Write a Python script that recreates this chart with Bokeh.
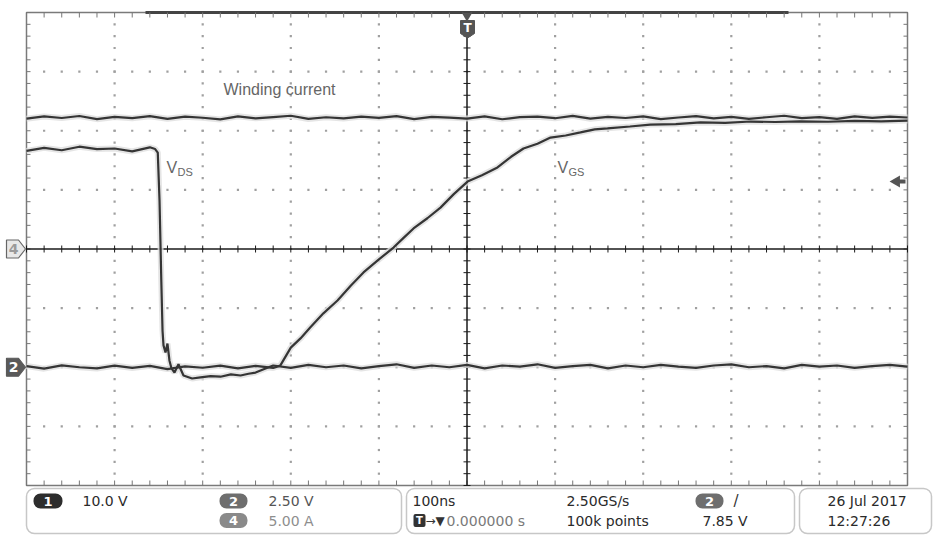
import numpy as np
from bokeh.plotting import figure
from bokeh.models import Range1d, BoxAnnotation
from bokeh.core.properties import value
from bokeh.embed import file_html
from bokeh.resources import INLINE

# ---------------- scope settings ----------------
time_per_div_ns = 100
ch1_v_per_div = 10.0   # V_DS
ch2_v_per_div = 2.5    # V_GS
ch4_a_per_div = 5.0    # winding current
ch1_offset_div = -2.0
ch2_offset_div = -2.0
ch4_offset_div = 0.0
trigger_level_v = 7.85

# ---------------- waveform data ----------------
t_current = list(range(-500, 501, 20))  # ns
i_winding = [11.02, 11.21, 11.08, 11.25, 10.98, 11.17, 11.06, 11.23, 11.01, 11.19,
             11.10, 10.96, 11.22, 11.05, 11.16, 11.27, 11.00, 11.14, 11.04, 11.20,
             11.09, 11.24, 10.99, 11.18, 11.11, 11.03, 11.22, 10.97, 11.15, 11.19,
             11.06, 11.26, 11.02, 11.17, 11.08, 11.21, 10.98, 11.12, 11.24, 11.05,
             11.18, 11.01, 11.14, 11.27, 11.07, 11.16, 11.00, 11.22, 11.09, 11.19, 11.12]

t_vds = [-500, -480, -460, -440, -420, -400, -380, -360, -354,
         -351, -349, -347, -345.6, -344.5, -342.2, -340, -337.7, -335.4, -332,
         -327.5, -321.8, -312, -302.5, -291, -279.8, -268, -257, -248, -240, -228.7,
         -220, -200, -180, -160, -140, -120, -100, -80, -60, -40, -20, 0,
         20, 40, 60, 80, 100, 120, 140, 160, 180, 200, 220, 240, 260, 280,
         300, 320, 340, 360, 380, 400, 420, 440, 460, 480, 500]
v_ds = [36.6, 37.1, 36.7, 37.3, 36.9, 37.0, 36.5, 37.2, 36.9,
        36.3, 28.2, 14.7, 6.2, 3.7, 2.5, 4.0, 1.1, -0.2, -0.9,
        0.5, -1.4, -1.9, -1.7, -1.5, -1.6, -1.2, -1.4, -1.1, -0.9, -0.2,
        0.3, -0.1, 0.4, 0.0, 0.3, -0.2, 0.2, 0.5, -0.1, 0.3, 0.0, 0.4,
        -0.2, 0.3, 0.1, 0.5, -0.1, 0.2, 0.4, -0.2, 0.3, 0.0, 0.4, 0.1, -0.1, 0.3,
        0.5, 0.0, 0.2, -0.2, 0.4, 0.1, 0.3, -0.1, 0.2, 0.4, 0.1]

t_vgs = [-500, -480, -460, -440, -420, -400, -380, -360, -340, -320, -300, -280,
         -260, -240, -220, -212,
         -200, -189, -178, -163, -147, -132, -117.5, -100, -83.4, -72, -60.7, -45, -30.1,
         -15, 0.6, 17, 34.6, 50, 64.1, 80, 94.8, 112, 128.8, 145, 159.5,
         185, 208, 237, 265, 293, 322, 350, 378, 410, 440, 470, 500]
v_gs = [0.05, -0.06, 0.08, 0.00, -0.05, 0.07, -0.03, 0.06, -0.08, 0.04, -0.02, 0.07,
        -0.05, 0.06, -0.03, 0.07,
        0.83, 1.22, 1.68, 2.28, 2.82, 3.45, 4.01, 4.56, 5.06, 5.47, 5.87, 6.30, 6.75,
        7.32, 7.85, 8.12, 8.45, 8.90, 9.25, 9.45, 9.71, 9.80, 9.93, 10.06, 10.10,
        10.18, 10.26, 10.28, 10.35, 10.33, 10.39, 10.37, 10.40, 10.38, 10.42, 10.40, 10.43]

# ---------------- page geometry ----------------
W, H = 935, 547
GX0, GX1 = 26.0, 907.0          # graticule left/right in px
GY_CENTER, PX_PER_DIV_Y = 248.5, 59.125
PX_PER_NS = (GX1 - GX0) / (10 * time_per_div_ns)
X_CENTER = (GX0 + GX1) / 2


def px_x(px):
    return (px - X_CENTER) / PX_PER_NS


def px_y(py):
    return (GY_CENTER - py) / PX_PER_DIV_Y


p = figure(width=W, height=H, output_backend="svg", toolbar_location=None,
           x_range=Range1d(px_x(0), px_x(W)), y_range=Range1d(px_y(H), px_y(0)),
           min_border=0, min_border_left=0, min_border_right=0,
           min_border_top=0, min_border_bottom=0)
p.axis.visible = False
p.grid.visible = False
p.outline_line_color = None
p.background_fill_color = "white"
p.border_fill_color = "white"

half_x = 5 * time_per_div_ns
dots_color = "#a0a0a0"

# dotted graticule lines
minor_y = np.round(np.arange(-20, 21) * 0.2, 6)
minor_x = np.round(np.arange(-25, 26) * 0.2, 6) * time_per_div_ns
dx, dy = [], []
for gx in [-4, -3, -2, -1, 1, 2, 3, 4]:
    for my in minor_y[1:-1]:
        dx.append(gx * time_per_div_ns)
        dy.append(my)
for gy in [-3, -2, -1, 1, 2, 3]:
    for mx in minor_x[1:-1]:
        dx.append(mx)
        dy.append(gy)
p.scatter(dx, dy, marker="square", size=2.2, color=dots_color, line_color=None)

# border
p.rect(x=[0], y=[0], width=[2 * half_x], height=[8], fill_color=None,
       line_color="#7a7a7a", line_width=1.5)
# record bar along top
p.line([px_x(145), px_x(788)], [4, 4], line_color="#444444", line_width=3)

# border ticks
tick_ns = 4 / PX_PER_NS
tick_dv = 5 / PX_PER_DIV_Y
x0s, y0s, x1s, y1s = [], [], [], []
for my in minor_y:
    x0s += [-half_x, half_x]
    x1s += [-half_x + tick_ns, half_x - tick_ns]
    y0s += [my, my]
    y1s += [my, my]
for mx in minor_x:
    x0s += [mx, mx]
    x1s += [mx, mx]
    y0s += [4, -4]
    y1s += [4 - tick_dv, -4 + tick_dv]
p.segment(x0s, y0s, x1s, y1s, line_color="#777777", line_width=1)

# center crosshair
p.line([-half_x, half_x], [0, 0], line_color="#1a1a1a", line_width=1.5)
p.line([0, 0], [-4, 4], line_color="#1a1a1a", line_width=1.5)
ct = 3.5
cx0, cy0, cx1, cy1 = [], [], [], []
for mx in minor_x:
    cx0.append(mx); cx1.append(mx)
    cy0.append(-ct / PX_PER_DIV_Y); cy1.append(ct / PX_PER_DIV_Y)
for my in minor_y:
    cx0.append(-ct / PX_PER_NS); cx1.append(ct / PX_PER_NS)
    cy0.append(my); cy1.append(my)
p.segment(cx0, cy0, cx1, cy1, line_color="#1a1a1a", line_width=1)

# ---------------- traces ----------------
y_cur = [v / ch4_a_per_div + ch4_offset_div for v in i_winding]
y_vds = [v / ch1_v_per_div + ch1_offset_div for v in v_ds]
y_vgs = [v / ch2_v_per_div + ch2_offset_div for v in v_gs]

for tx, ty in [(t_current, y_cur), (t_vds, y_vds), (t_vgs, y_vgs)]:
    p.line(tx, ty, line_color="#dedede", line_width=6, line_alpha=0.8)
for tx, ty in [(t_current, y_cur), (t_vds, y_vds), (t_vgs, y_vgs)]:
    p.line(tx, ty, line_color="#353535", line_width=2.2)

# ---------------- trace labels ----------------
lab_font = value("Liberation Sans")
p.text(x=[px_x(223)], y=[px_y(89)], text=["Winding current"], text_font=lab_font,
       text_font_size="16px", text_color="#666666", text_baseline="middle")
p.text(x=[px_x(166), px_x(557)], y=[px_y(167), px_y(167)], text=["V", "V"],
       text_font=lab_font, text_font_size="16px", text_color="#666666",
       text_baseline="middle")
p.text(x=[px_x(177), px_x(568)], y=[px_y(171), px_y(171)], text=["DS", "GS"],
       text_font=lab_font, text_font_size="11px", text_color="#666666",
       text_baseline="middle")


def rbox(l, r, t, b, rad=8, fill=None, line="#444444", lw=1.5):
    p.add_layout(BoxAnnotation(left=px_x(l), right=px_x(r), top=px_y(t), bottom=px_y(b),
                               border_radius=rad, fill_color=fill,
                               fill_alpha=1 if fill else 0,
                               line_color=line, line_width=lw, level="underlay"))


f = value("DejaVu Sans")


def txt(x, y, s, color="#2a2a2a", size="14px", align="left", style="normal"):
    p.text(x=[px_x(x)], y=[y], text=[s], text_font=f, text_font_size=size,
           text_color=color, text_align=align, text_baseline="middle",
           text_font_style=style)


# ---------------- markers ----------------
# trigger position marker (top)
p.scatter([0], [px_y(15)], marker="inverted_triangle", size=11,
          color="#555555", line_color=None)
p.patch([px_x(460), px_x(474), px_x(474), px_x(467), px_x(460)],
        [px_y(20), px_y(20), px_y(33), px_y(37.5), px_y(33)],
        fill_color="#555555", line_color="#555555")
txt(467, px_y(27.5), "T", color="white", size="12px", align="center", style="bold")


# channel ground markers (left)
def chan_marker(offset_div, fill, line, label, txt_color):
    h = 9 / PX_PER_DIV_Y
    xs = [px_x(6), px_x(18), px_x(25), px_x(18), px_x(6)]
    ys = [offset_div + h, offset_div + h, offset_div, offset_div - h, offset_div - h]
    p.patch(xs, ys, fill_color=fill, line_color=line, line_width=1.2)
    p.text(x=[px_x(13)], y=[offset_div], text=[label], text_font=f,
           text_font_size="14px", text_font_style="bold", text_color=txt_color,
           text_align="center", text_baseline="middle")

chan_marker(ch4_offset_div, "#e8e8e8", "#666666", "4", "#9a9a9a")
chan_marker(ch2_offset_div, "#5a5a5a", "#5a5a5a", "2", "white")

# trigger level marker (right)
trig_div = trigger_level_v / ch2_v_per_div + ch2_offset_div
p.scatter([px_x(896)], [trig_div], marker="triangle", angle=np.pi / 2, size=12,
          color="#555555", line_color=None)
p.line([px_x(898), px_x(905)], [trig_div, trig_div], line_color="#555555", line_width=4)

# ---------------- info panel ----------------
rbox(26, 401, 488, 533)
rbox(406, 794, 488, 533)
rbox(799, 931, 488, 533)

row1, row2 = px_y(500.5), px_y(520)


def pill(l, r, yc, label, fill):
    rbox(l, r, yc - 7.5, yc + 7.5, rad=7, fill=fill, line=None, lw=0)
    txt((l + r) / 2, px_y(yc), label, color="white", size="13px", align="center",
        style="bold")

pill(33, 62, 500.5, "1", "#2d2d2d")
txt(82, row1, "10.0 V", "#2a2a2a")
pill(219, 247, 500.5, "2", "#6e6e6e")
txt(268, row1, "2.50 V", "#555555")
pill(219, 247, 520, "4", "#8a8a8a")
txt(268, row2, "5.00 A", "#8e8e8e")

txt(412, row1, "100ns")
rbox(413, 425, 513.5, 526.5, rad=2, fill="#333333", line=None, lw=0)
txt(419, row2, "T", color="white", size="10px", align="center", style="bold")
txt(425, row2, "→▼", "#333333", size="12px")
txt(446, row2, "0.000000 s", "#7a7a7a")
txt(566, row1, "2.50GS/s")
txt(566, row2, "100k points")
pill(695, 723, 500.5, "2", "#6e6e6e")
txt(733, row1, "/", "#333333", size="15px")
txt(702, row2, "7.85 V")
txt(827, row1, "26 Jul  2017")
txt(827, row2, "12:27:26")

open("out.html", "w").write(file_html(p, INLINE))
